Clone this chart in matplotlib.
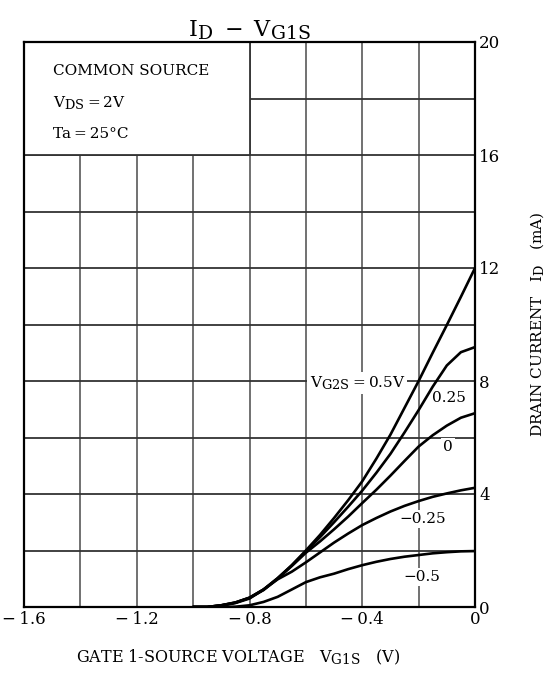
import matplotlib
matplotlib.use("Agg")
import matplotlib.pyplot as plt
from matplotlib.patches import Rectangle
try:
    import matplotlib._mathtext as _mt
    _mt.SHRINK_FACTOR = 0.85
except Exception:
    pass

plt.rcParams['font.family'] = ['DejaVu Serif']
plt.rcParams['mathtext.fontset'] = 'dejavuserif'

# Data
vg1s = [-1.0, -0.95, -0.9, -0.85, -0.8, -0.75, -0.7, -0.65, -0.6, -0.55, -0.5, -0.45,
        -0.4, -0.35, -0.3, -0.25, -0.2, -0.15, -0.1, -0.05, 0.0]
id_05 = [0.0, 0.0, 0.06, 0.16, 0.33, 0.62, 1.02, 1.48, 2.0, 2.55, 3.15, 3.78,
         4.45, 5.25, 6.1, 7.05, 8.0, 9.0, 9.98, 10.98, 12.0]
id_025 = [0.0, 0.0, 0.06, 0.16, 0.33, 0.62, 1.02, 1.47, 1.97, 2.47, 3.0, 3.55,
          4.12, 4.75, 5.42, 6.18, 6.97, 7.8, 8.55, 9.02, 9.2]
id_0 = [0.0, 0.0, 0.06, 0.15, 0.32, 0.6, 1.0, 1.45, 1.92, 2.32, 2.75, 3.2,
        3.68, 4.15, 4.65, 5.17, 5.68, 6.08, 6.42, 6.7, 6.86]
id_m025 = [0.0, 0.0, 0.05, 0.14, 0.3, 0.62, 0.98, 1.25, 1.58, 1.93, 2.28, 2.6,
           2.9, 3.15, 3.38, 3.58, 3.75, 3.9, 4.02, 4.13, 4.22]
id_m05 = [0.0, 0.0, 0.0, 0.01, 0.06, 0.18, 0.36, 0.62, 0.88, 1.05, 1.18, 1.34,
          1.48, 1.6, 1.7, 1.78, 1.84, 1.9, 1.94, 1.97, 1.98]
series = [id_05, id_025, id_0, id_m025, id_m05]
xticks = [-1.6, -1.2, -0.8, -0.4, 0.0]
xticklabels = ["\u2212\u20091.6", "\u2212\u20091.2", "\u2212\u20090.8", "\u2212\u20090.4", "0"]
yticks = [0, 4, 8, 12, 16, 20]

fig = plt.figure(figsize=(5.47, 6.74), dpi=100)
ax = fig.add_axes([24/547, 1-607/674, (475-24)/547, (607-42)/674])
ax.set_xlim(-1.6, 0)
ax.set_ylim(0, 20)

# grid
for gx in [-1.4, -1.2, -1.0, -0.8, -0.6, -0.4, -0.2]:
    ax.axvline(gx, color='#666666', lw=1.3, zorder=1)
for gy in [2, 4, 6, 8, 10, 12, 14, 16, 18]:
    ax.axhline(gy, color='#333333', lw=1.3, zorder=1)

# info box covering grid
ax.add_patch(Rectangle((-1.6, 16), 0.8, 4, facecolor='white', edgecolor='#333333',
                       lw=1.3, zorder=2))
fs = 11
ax.text(-1.497, 18.97, "COMMON SOURCE", fontsize=fs, va='center', ha='left', zorder=3)
ax.text(-1.497, 17.84, r"$\mathregular{V_{DS}}$" + "\u2009=\u20092V", fontsize=fs,
        va='center', ha='left', zorder=3)
ax.text(-1.497, 16.74, "Ta\u2009=\u200925\u00b0C", fontsize=fs, va='center', ha='left', zorder=3)

for ys in series:
    ax.plot(vg1s, ys, color='black', lw=1.9, zorder=4, solid_capstyle='round',
            solid_joinstyle='round')

bb = dict(facecolor='white', edgecolor='none', pad=1.5)
ax.text(-0.248, 7.93, r"$\mathregular{V_{G2S}}$" + "\u2009=\u20090.5V", fontsize=fs, ha='right',
        va='center', bbox=bb, zorder=3)
ax.text(-0.092, 7.4, "0.25", fontsize=fs, ha='center', va='center', bbox=bb, zorder=3)
ax.text(-0.096, 5.66, "0", fontsize=fs, ha='center', va='center', bbox=bb, zorder=3)
ax.text(-0.184, 3.12, "\u22120.25", fontsize=fs, ha='center', va='center', bbox=bb, zorder=3)
ax.text(-0.19, 1.06, "\u22120.5", fontsize=fs, ha='center', va='center', bbox=bb, zorder=3)

for s in ax.spines.values():
    s.set_linewidth(1.6)
    s.set_zorder(5)

ax.set_xticks(xticks)
ax.set_xticklabels(xticklabels, fontsize=12)
ax.yaxis.tick_right()
ax.set_yticks(yticks)
ax.set_yticklabels([str(v) for v in yticks], fontsize=12)
ax.tick_params(length=0, pad=3)

ax.set_title(r"$\mathregular{I_D\ -\ V_{G1S}}$", fontsize=16, pad=4)
ax.set_xlabel(r"GATE 1-SOURCE VOLTAGE   $\mathregular{V_{G1S}}$   (V)", fontsize=11.5, labelpad=14)
ax.xaxis.label.set_x(0.475)
ax.yaxis.set_label_position('right')
ax.set_ylabel(r"DRAIN CURRENT   $\mathregular{I_D}$   (mA)", fontsize=11, labelpad=20)

fig.savefig("out.png", dpi=100)
